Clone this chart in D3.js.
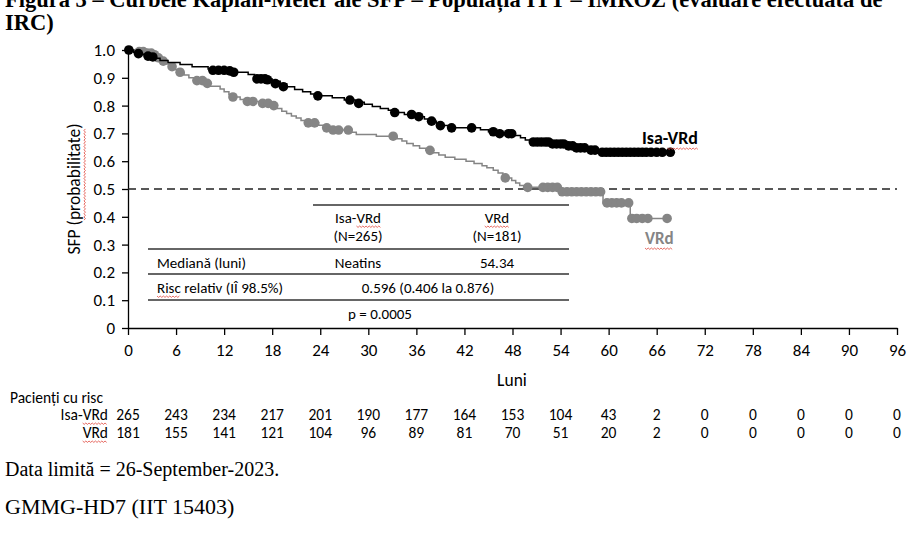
<!DOCTYPE html>
<html>
<head>
<meta charset="utf-8">
<script src="https://cdn.jsdelivr.net/npm/d3@7"></script>
<style>
  body { margin: 0; background: #fff; }
  svg { display: block; }
  .sans { font-family: Carlito, Lato, "Open Sans", sans-serif; }
  .serif { font-family: "Liberation Serif", "DejaVu Serif", serif; }
</style>
</head>
<body>
<svg id="chart" width="919" height="540"></svg>
<script>
// x ticks (months)
var monthTicks = d3.range(0, 97, 6);
var yTicks = [0, 0.1, 0.2, 0.3, 0.4, 0.5, 0.6, 0.7, 0.8, 0.9, 1.0];

// Kaplan-Meier steps [month, survival]
var isaSteps = [[0,1],[0.7,0.992],[1.5,0.985],[2.4,0.977],[3.2,0.97],[4.0,0.962],[5.0,0.955],[6.5,0.948],[8.0,0.94],
  [10.0,0.932],[11.0,0.927],[13.5,0.92],[15.0,0.912],[15.8,0.904],[16.8,0.896],[18.0,0.888],[19.0,0.879],[19.8,0.868],
  [20.8,0.858],[21.8,0.85],[22.8,0.842],[23.5,0.835],[25.5,0.828],[27.0,0.82],[28.4,0.812],[29.5,0.805],[30.5,0.797],
  [31.5,0.79],[32.5,0.783],[33.2,0.775],[34.5,0.768],[36.0,0.76],[37.0,0.752],[37.8,0.744],[38.5,0.736],[39.3,0.728],
  [40.0,0.72],[44.0,0.713],[45.0,0.706],[46.0,0.699],[48.3,0.692],[49.0,0.684],[49.6,0.676],[50.3,0.669],[52.8,0.662],
  [54.6,0.655],[55.8,0.648],[57.5,0.64],[58.8,0.632]];
var isaCensor = [[0.1,1],[1.3,0.987],[2.5,0.978],[3.1,0.975],[10.6,0.927],[11.3,0.927],[12.0,0.927],[12.7,0.925],
  [13.2,0.92],[16.1,0.896],[16.6,0.896],[17.1,0.896],[17.4,0.893],[18.4,0.879],[19.4,0.868],[23.7,0.835],[27.7,0.82],
  [28.8,0.808],[33.3,0.775],[35.4,0.768],[36.3,0.76],[37.9,0.744],[39.0,0.728],[40.4,0.72],[42.9,0.72],[45.6,0.706],
  [46.4,0.699],[47.5,0.699],[47.9,0.699],[50.6,0.669],[51.1,0.669],[51.6,0.669],[52.1,0.669],[52.5,0.669],[53.0,0.662],
  [53.5,0.662],[54.0,0.662],[54.4,0.662],[55.0,0.655],[55.5,0.655],[56.0,0.648],[56.5,0.648],[57.0,0.648],[57.8,0.64],
  [58.3,0.64],[59.2,0.632],[59.7,0.632],[60.2,0.632],[60.7,0.632],[61.2,0.632],[61.7,0.632],[62.2,0.632],[62.7,0.632],
  [63.2,0.632],[63.7,0.632],[64.2,0.632],[64.7,0.632],[65.3,0.632],[66.0,0.632],[66.7,0.632],[67.7,0.632]];

var vrdSteps = [[0,1],[1.0,0.994],[2.0,0.989],[3.0,0.983],[3.6,0.972],[4.2,0.96],[4.8,0.95],[5.3,0.94],[5.8,0.93],
  [6.3,0.92],[7.0,0.91],[7.6,0.9],[8.2,0.89],[9.4,0.88],[10.0,0.87],[11.5,0.86],[12.0,0.85],[12.6,0.84],[13.1,0.831],
  [14.0,0.822],[15.0,0.815],[16.5,0.808],[18.0,0.8],[18.6,0.79],[19.2,0.78],[19.8,0.772],[20.4,0.763],[21.0,0.755],
  [21.6,0.746],[22.2,0.738],[23.8,0.729],[24.6,0.72],[25.2,0.712],[27.6,0.704],[28.5,0.696],[31.0,0.69],[33.6,0.681],
  [34.2,0.673],[34.8,0.664],[35.6,0.656],[36.4,0.647],[37.2,0.639],[38.0,0.63],[38.8,0.622],[39.6,0.614],[40.8,0.607],
  [42.2,0.6],[43.2,0.592],[44.2,0.584],[44.8,0.576],[45.6,0.567],[46.2,0.558],[46.8,0.549],[47.4,0.54],[47.9,0.531],
  [48.4,0.522],[48.9,0.513],[49.4,0.506],[53.8,0.49],[59.3,0.45],[62.7,0.394]];
var vrdCensor = [[1.4,0.994],[1.9,0.994],[2.4,0.989],[2.9,0.989],[3.3,0.983],[3.8,0.972],[4.4,0.96],[5.5,0.94],
  [6.5,0.92],[8.6,0.89],[9.3,0.89],[9.9,0.88],[13.1,0.831],[14.9,0.815],[15.6,0.815],[16.8,0.808],[17.5,0.808],
  [18.2,0.8],[22.5,0.738],[23.3,0.738],[24.8,0.72],[25.6,0.712],[26.3,0.712],[27.5,0.712],[33.1,0.69],[37.7,0.639],
  [47.1,0.54],[49.9,0.506],[51.8,0.506],[52.4,0.506],[53.0,0.506],[53.6,0.506],[54.2,0.49],[54.8,0.49],[55.4,0.49],
  [56.0,0.49],[56.6,0.49],[57.2,0.49],[57.8,0.49],[58.4,0.49],[59.0,0.49],[59.8,0.45],[60.4,0.45],[61.0,0.45],
  [61.6,0.45],[62.5,0.45],[62.9,0.394],[63.5,0.394],[64.2,0.394],[64.9,0.394],[67.3,0.394]];

// numbers at risk
var riskGroups = ["Isa-VRd", "VRd"];
var isaRisk = [265,243,234,217,201,190,177,164,153,104,43,2,0,0,0,0,0];
var vrdRisk = [181,155,141,121,104,96,89,81,70,51,20,2,0,0,0,0,0];

// inset summary table
var tableHead = [["Isa-VRd", "(N=265)"], ["VRd", "(N=181)"]];
var medianRow = ["Mediană (luni)", "Neatins", "54.34"];
var hrRow = ["Risc relativ (IÎ 98.5%)", "0.596 (0.406 la 0.876)"];
var pText = "p = 0.0005";

var titleLines = ["Figura 3 – Curbele Kaplan-Meier ale SFP – Populația ITT – IMROZ (evaluare efectuată de", "IRC)"];
var footLines = ["Data limită = 26-September-2023.", "GMMG-HD7 (IIT 15403)"];

var svg = d3.select("#chart");
var x = d3.scaleLinear().domain([0, 96]).range([128, 897]);
var y = d3.scaleLinear().domain([0, 1]).range([328, 50]);

var black = "#000", grey = "#858585";

// red spell-check squiggle under the characters [i0, i1) of a text node
function squiggle(sel, i0, i1) {
  var node = sel.node();
  var a = node.getStartPositionOfChar(i0).x, b = node.getEndPositionOfChar(i1 - 1).x;
  var bb = node.getBBox();
  var yy = bb.y + bb.height - 1;
  var pts = d3.range(a, b, 1.6).map((px, k) => [px, yy + (k % 2 ? 1.4 : 0)]);
  d3.select(node.parentNode).append("path")
    .attr("d", d3.line()(pts)).attr("fill", "none")
    .attr("stroke", "#e0463c").attr("stroke-width", 0.8);
}

/** title, cut at the top like the source page */
svg.selectAll(".title").data(titleLines).join("text")
  .attr("class", "title serif")
  .attr("x", 5).attr("y", (d, i) => 7 + i * 23)
  .attr("font-size", "22.5px").attr("font-weight", "bold")
  .text(d => d);

/** axes */
var gx = svg.append("g").attr("class", "sans")
  .attr("transform", `translate(0,${y(0)})`)
  .call(d3.axisBottom(x).tickValues(monthTicks).tickSize(7).tickPadding(9).tickSizeOuter(0));
var gy = svg.append("g").attr("class", "sans")
  .attr("transform", `translate(${x(0)},0)`)
  .call(d3.axisLeft(y).tickValues(yTicks).tickSize(6).tickPadding(7).tickSizeOuter(0)
    .tickFormat(d => d === 0 ? "0" : d3.format(".1f")(d)));
[gx, gy].forEach(g => {
  g.selectAll("text").attr("font-size", "17px").attr("fill", "#000").attr("font-family", null);
  g.selectAll("line,path").attr("stroke", "#000").attr("stroke-width", 1.3);
});

var ylab = svg.append("g").attr("transform", `translate(80,${y(0.5)}) rotate(-90)`)
  .append("text").attr("class", "sans")
  .attr("text-anchor", "middle").attr("font-size", "17.5px")
  .text("SFP (probabilitate)");
squiggle(ylab, 5, 18);
svg.append("text").attr("class", "sans")
  .attr("x", 512).attr("y", 386).attr("text-anchor", "middle").attr("font-size", "17.5px")
  .text("Luni");

/** median reference line */
svg.append("line")
  .attr("x1", x(0)).attr("x2", x(96)).attr("y1", y(0.5)).attr("y2", y(0.5))
  .attr("stroke", "#222").attr("stroke-width", 1.3).attr("stroke-dasharray", "8,5");

/** inset table */
var tb = svg.append("g").attr("class", "sans").attr("font-size", "15px");
var colX = [157, 358, 497];
[[313, 569, 205], [148, 569, 249], [148, 569, 274], [148, 569, 300]].forEach(l => {
  tb.append("line").attr("x1", l[0]).attr("x2", l[1]).attr("y1", l[2]).attr("y2", l[2])
    .attr("stroke", "#333").attr("stroke-width", 1.3);
});
tableHead.forEach((h, i) => {
  h.forEach((t, j) => {
    var tx = tb.append("text").attr("x", colX[i + 1]).attr("y", 223 + j * 18).attr("text-anchor", "middle").text(t);
    if (j === 0) squiggle(tx, t.indexOf("VRd"), t.length);
  });
});
tb.append("text").attr("x", colX[0]).attr("y", 268).text(medianRow[0]);
tb.append("text").attr("x", colX[1]).attr("y", 268).attr("text-anchor", "middle").text(medianRow[1]);
tb.append("text").attr("x", colX[2]).attr("y", 268).attr("text-anchor", "middle").text(medianRow[2]);
var hrLab = tb.append("text").attr("x", colX[0]).attr("y", 293).text(hrRow[0]);
squiggle(hrLab, 0, 4);
tb.append("text").attr("x", 428).attr("y", 293).attr("text-anchor", "middle").text(hrRow[1]);
tb.append("text").attr("x", 380).attr("y", 319).attr("text-anchor", "middle").text(pText);

/** KM curves */
var line = d3.line().curve(d3.curveStepAfter).x(d => x(d[0])).y(d => y(d[1]));
function drawArm(steps, censor, color, cls) {
  var last = censor[censor.length - 1];
  var pts = steps.concat([[last[0], steps[steps.length - 1][1]]]);
  svg.append("path").datum(pts)
    .attr("fill", "none").attr("stroke", color).attr("stroke-width", 1.5)
    .attr("d", line);
  svg.selectAll("." + cls).data(censor).join("circle")
    .attr("class", cls)
    .attr("cx", d => x(d[0])).attr("cy", d => y(d[1])).attr("r", 4.8)
    .attr("fill", color);
}
drawArm(vrdSteps, vrdCensor, grey, "dotVrd");
drawArm(isaSteps, isaCensor, black, "dotIsa");

var labG = svg.append("g").attr("class", "sans");
var isaLab = labG.append("text").attr("x", 642).attr("y", 144)
  .attr("font-size", "18px").attr("font-weight", "bold").attr("fill", black).text("Isa-VRd");
squiggle(isaLab, 4, 7);
var vrdLab = labG.append("text").attr("x", 645).attr("y", 244)
  .attr("font-size", "17px").attr("font-weight", "bold").attr("fill", grey).text("VRd");
squiggle(vrdLab, 0, 3);

/** number at risk */
var rk = svg.append("g").attr("class", "sans").attr("font-size", "15.5px");
rk.append("text").attr("x", 10).attr("y", 403).text("Pacienți cu risc");
[isaRisk, vrdRisk].forEach((row, r) => {
  var ry = 420 + r * 18;
  var lab = rk.append("text").attr("x", 108).attr("y", ry).attr("text-anchor", "end").text(riskGroups[r]);
  squiggle(lab, riskGroups[r].indexOf("VRd"), riskGroups[r].length);
  rk.selectAll(".risk" + r).data(row).join("text")
    .attr("class", "risk" + r)
    .attr("x", (d, i) => x(monthTicks[i])).attr("y", ry).attr("text-anchor", "middle")
    .text(d => d);
});

/** footer */
svg.selectAll(".foot").data(footLines).join("text")
  .attr("class", "foot serif")
  .attr("x", 5).attr("y", (d, i) => 476 + i * 38)
  .attr("font-size", (d, i) => i === 0 ? "20px" : "22px")
  .text(d => d);
</script>
</body>
</html>
